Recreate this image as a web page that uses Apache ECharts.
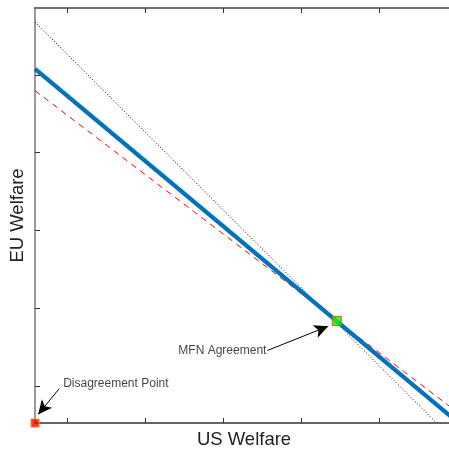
<!DOCTYPE html>
<html><head><meta charset="utf-8">
<script src="https://cdn.jsdelivr.net/npm/echarts@6/dist/echarts.min.js"></script>
<style>html,body{margin:0;padding:0;background:#fff}#c{width:449px;height:449px}</style>
</head><body><div id="c"></div>
<script>
// Welfare units (one tick spacing = 1 unit); disagreement point at origin
const xRange = [0, 5.36];
const yRange = [0, 5.32];
const xTicks = [0.41, 1.41, 2.41, 3.41, 4.41];
const yTicks = [0.47, 1.47, 2.47, 3.47, 4.46];
const frontier = [[0, 4.54], [5.36, 0.06]];      // solid blue
const dottedLine = [[0, 5.14], [5.15, 0]];      // black dotted
const dashedLine = [[0, 4.26], [5.36, 0.18]];   // red dashed
const disagreement = [0, 0];
const mfn = [3.87, 1.31];
const mfnArrow = [[2.98, 0.93], [3.76, 1.24]];
const disArrow = [[0.31, 0.44], [0.04, 0.11]];
const mfnLabel = 'MFN Agreement';
const disLabel = 'Disagreement Point';

const font = 'Liberation Sans, Arial, Helvetica, sans-serif';
const chart = echarts.init(document.getElementById('c'));
function axisBase(extra){
  return Object.assign({
    type:'value', splitLine:{show:false},
    axisLabel:{show:false},
  }, extra);
}
function arrow(seg){
  return [{coord:seg[0], symbol:'none'}, {coord:seg[1], symbol:'arrow', symbolSize:[10,14]}];
}
chart.setOption({
  animation:false,
  grid:{left:35, top:8, right:-4, bottom:26, show:false, outerBoundsMode:'none', containLabel:false},
  xAxis:[
    axisBase({min:xRange[0], max:xRange[1], position:'bottom',
      name:'US Welfare', nameLocation:'middle', nameGap:7,
      nameTextStyle:{fontSize:18.5, color:'#222', fontFamily:font, verticalAlign:'top'},
      axisLine:{show:true, onZero:false, lineStyle:{color:'#333', width:1.5}},
      axisTick:{show:true, inside:true, length:5, customValues:xTicks, lineStyle:{color:'#333'}}}),
    axisBase({min:xRange[0], max:xRange[1], position:'top',
      axisLine:{show:true, onZero:false, lineStyle:{color:'#444', width:1.5}},
      axisTick:{show:true, inside:true, length:5, customValues:xTicks, lineStyle:{color:'#333'}}})
  ],
  yAxis:[
    axisBase({min:yRange[0], max:yRange[1], position:'left',
      name:'EU Welfare', nameLocation:'middle', nameGap:8,
      nameTextStyle:{fontSize:18.5, color:'#222', fontFamily:font},
      axisLine:{show:true, onZero:false, lineStyle:{color:'#999', width:2}},
      axisTick:{show:true, inside:true, length:5, customValues:yTicks, lineStyle:{color:'#333'}}})
  ],
  series:[
    {type:'line', data:dottedLine, symbol:'none', lineStyle:{color:'#000', width:1, type:[1,2]}, z:2},
    {type:'line', data:dashedLine, symbol:'none', lineStyle:{color:'#ff0000', width:1, type:[6,5]}, z:2},
    {type:'line', data:frontier, symbol:'none', lineStyle:{color:'#0072BD', width:4.3}, z:3},
    {type:'scatter', data:[], z:4,
      markLine:{silent:true, animation:false, label:{show:false},
        lineStyle:{color:'#000', width:1, type:'solid'}, itemStyle:{color:'#000'},
        data:[arrow(mfnArrow), arrow(disArrow)]}},
    {type:'scatter', data:[disagreement], symbol:'rect', symbolSize:8, clip:false,
      itemStyle:{color:'#ff0000', borderColor:'#ff8c00', borderWidth:1.2}, z:6},
    {type:'scatter', data:[mfn], symbol:'rect', symbolSize:9, clip:false,
      itemStyle:{color:'#00ff00', borderColor:'#c86400', borderWidth:1.2}, z:6},
    {type:'scatter', symbolSize:0, silent:true, z:7,
      data:[{value:mfnArrow[0], label:{show:true, position:'left', distance:1, formatter:mfnLabel}}],
      label:{fontSize:12, color:'#111', fontFamily:font}},
    {type:'scatter', symbolSize:0, silent:true, z:7,
      data:[{value:disArrow[0], label:{show:true, position:'right', distance:4, offset:[0,-5], formatter:disLabel}}],
      label:{fontSize:12, color:'#111', fontFamily:font}}
  ]
});
</script></body></html>
